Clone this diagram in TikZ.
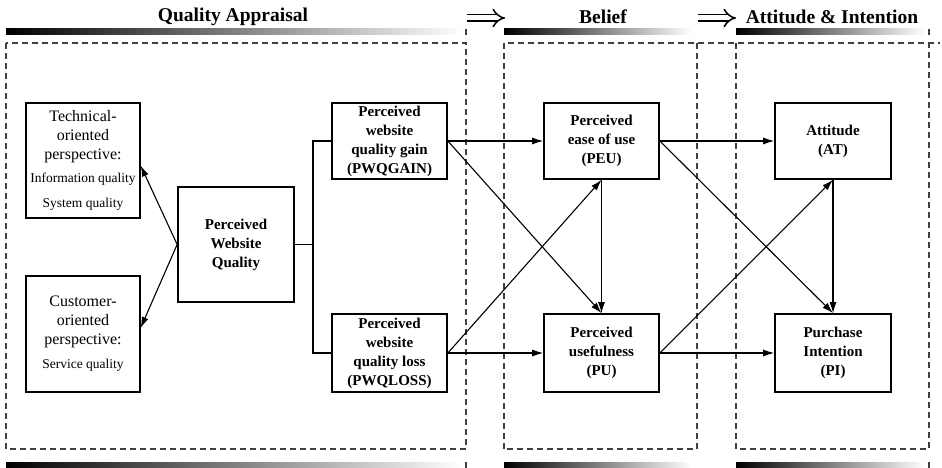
\documentclass[tikz,border=0pt]{standalone}
\usepackage{fontspec}
\setmainfont{Liberation Serif}
\usetikzlibrary{arrows.meta}

\newcommand{\smalltxt}{\fontsize{13.5}{16}\selectfont}

\begin{document}
\begin{tikzpicture}[x=1pt, y=-1pt,
  box/.style={draw, line width=1.7pt, minimum width=115pt, minimum height=76pt,
    align=center, inner sep=2pt, font=\fontsize{15}{19}\selectfont\bfseries},
  viewbox/.style={draw, line width=1.3pt, minimum width=114pt, minimum height=115pt,
    align=center, inner sep=2pt, font=\fontsize{16}{19}\selectfont},
  link/.style={line width=1.1pt, -{Latex[length=11pt,width=7pt]}},
  stage/.style={draw=black!75, line width=1.2pt, dash pattern=on 6pt off 4pt},
  title/.style={font=\fontsize{19.5}{21}\selectfont\bfseries},
  bar/.style={left color=black, middle color=black!55, right color=white},
  next/.style={double, double distance=5pt, line width=1.5pt, -{Implies}}]
  \useasboundingbox (0,0) rectangle (942,468);

  % Stage titles and bars
  \node[title] (qa) at (233,17) {Quality Appraisal};
  \node[title] (belief) at (603,17) {Belief};
  \node[title] (ai) at (832,17) {Attitude \& Intention};
  \draw[next] (467,18) -- (505,18);
  \draw[next] (698,18) -- (736,18);
  \foreach \a/\b in {6/462, 504/692, 736/925} {
    \shade[bar] (\a,29) rectangle (\b,35);
    \shade[bar] (\a,462) rectangle (\b,468);
  }
  \foreach \x in {466, 929} {
    \draw[black!75, line width=1.2pt] (\x,29) -- (\x,35);
    \draw[black!75, line width=1.2pt] (\x,462) -- (\x,468);
  }

  % Stage frames
  \draw[stage] (6,43) rectangle (466,449);
  \draw[stage] (504,449) -- (504,43) -- (940,43);
  \draw[stage] (697,43) -- (697,449) -- (504,449);
  \draw[stage] (736,43) -- (736,449) -- (929,449) -- (929,43);

  % Quality appraisal
  \node[viewbox] (tech) at (83,160.5) {Technical-\\oriented\\perspective:\\[4pt]
    \smalltxt Information quality\\[6pt]\smalltxt System quality};
  \node[viewbox, minimum height=116pt] (cust) at (83,334) {Customer-\\oriented\\perspective:\\[5pt]
    \smalltxt Service quality};
  \node[box, minimum width=116pt, minimum height=115pt] (pwq) at (236,244.5) {Perceived\\Website\\Quality};
  \node[box] (gain) at (389.5,141) {Perceived\\website\\quality gain\\(PWQGAIN)};
  \node[box, minimum height=78pt] (loss) at (389.5,353) {Perceived\\website\\quality loss\\(PWQLOSS)};

  % Belief
  \node[box] (peu) at (601.5,141) {Perceived\\ease of use\\(PEU)};
  \node[box, minimum height=78pt] (pu) at (601.5,353) {Perceived\\usefulness\\(PU)};

  % Attitude and intention
  \node[box, minimum width=116pt] (at) at (833,141) {Attitude\\(AT)};
  \node[box, minimum width=116pt, minimum height=78pt] (pi) at (833,353) {Purchase\\Intention\\(PI)};

  % Connectors
  \coordinate (bus) at (313,0);
  \draw[line width=1.1pt] (gain.west) -- (gain.west -| bus) -- (loss.west -| bus) -- (loss.west);
  \draw[line width=1.1pt] (pwq.east) -- (pwq.east -| bus);
  \draw[link] (pwq.west) -- (tech.-5);
  \draw[link] (pwq.west) -- (cust.6);
  \draw[link] (gain.east) -- (peu.west);
  \draw[link] (gain.east) -- (pu.north);
  \draw[link] (loss.east) -- (peu.south);
  \draw[link] (loss.east) -- (pu.west);
  \draw[link] (peu.south) -- (pu.north);
  \draw[link] (peu.east) -- (at.west);
  \draw[link] (peu.east) -- (pi.north);
  \draw[link] (pu.east) -- (at.south);
  \draw[link] (pu.east) -- (pi.west);
  \draw[link] (at.south) -- (pi.north);
\end{tikzpicture}
\end{document}
